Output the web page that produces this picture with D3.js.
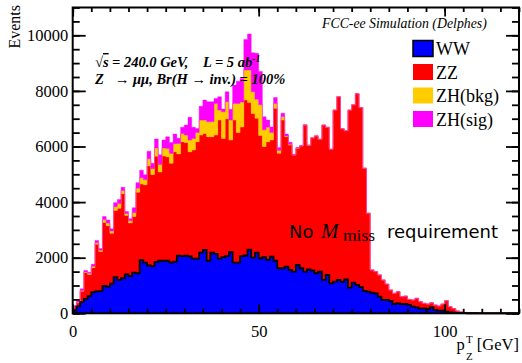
<!DOCTYPE html>
<html>
<head>
<meta charset="utf-8">
<script src="https://cdn.jsdelivr.net/npm/d3@7/dist/d3.min.js"></script>
<style>
  body { margin: 0; background: #fff; }
  svg { display: block; }
  .serif { font-family: "Liberation Serif", "Times New Roman", serif; }
</style>
</head>
<body>
<svg id="chart" width="522" height="363"></svg>
<script>
// Histogram binning: p_T of the Z, 1 GeV bins from 0 to 120 GeV
const binStart = 0;
const binWidth = 1;

// Events per bin for each process (stacked bottom to top)
const WW = [
  100, 250, 400, 520, 620, 760, 790, 800, 990, 960,
  1070, 1300, 1200, 1260, 1400, 1340, 1460, 1440, 1910, 1820,
  1720, 1700, 1850, 1890, 1890, 1890, 1820, 1860, 2070, 2060,
  2070, 2050, 1970, 1970, 2180, 2280, 1890, 2180, 2140, 1970,
  2020, 2060, 2200, 1820, 1820, 2060, 2080, 2290, 2000, 2180,
  1980, 2020, 1920, 2040, 1890, 1620, 1620, 1680, 1560, 1500,
  1740, 1620, 1500, 1580, 1540, 1440, 1500, 1200, 1380, 1080,
  1140, 1200, 1140, 1220, 920, 1100, 1020, 940, 810, 780,
  740, 720, 600, 480, 480, 450, 335, 360, 335, 335,
  300, 240, 215, 170, 180, 145, 215, 120, 96, 96,
  60, 36, 24, 12, 6, 4, 2, 1, 1, 0,
  0, 0, 0, 0, 0, 0, 0, 0, 0, 0
];
const ZZ = [
  100, 130, 390, 940, 780, 880, 1690, 1420, 2280, 2190,
  1810, 2400, 2580, 3040, 2120, 1910, 2020, 2910, 2740, 2800,
  3580, 3290, 3800, 3190, 3770, 3740, 3580, 3950, 3660, 4110,
  4070, 3760, 3900, 4200, 4230, 4190, 4460, 4170, 4270, 4980,
  4270, 4940, 4030, 5130, 4680, 4640, 5590, 5290, 5190, 4840,
  4420, 3980, 4250, 4190, 5490, 4140, 5330, 4670, 4490, 4190,
  4200, 4400, 5270, 4460, 4770, 4940, 4760, 5570, 5310, 4820,
  6170, 6590, 5500, 5350, 6390, 6400, 6880, 6460, 4410, 2820,
  820, 780, 780, 720, 570, 390, 385, 420, 265, 285,
  200, 240, 325, 250, 180, 190, 165, 180, 169, 239,
  395, 204, 146, 73, 44, 26, 18, 15, 12, 10,
  10, 9, 8, 7, 6, 6, 5, 5, 4, 4
];
const ZHbkg = [
  15, 20, 30, 30, 40, 50, 60, 50, 100, 100,
  80, 130, 170, 120, 70, 80, 140, 150, 230, 180,
  260, 210, 300, 270, 290, 300, 350, 290, 380, 300,
  270, 420, 420, 330, 540, 480, 540, 540, 1140, 360,
  960, 610, 720, 600, 1050, 900, 1080, 1170, 780, 680,
  1100, 600, 530, 270, 170, 100, 130, 30, 30, 10,
  10, 5, 5, 4, 3, 3, 2, 2, 2, 1,
  1, 1, 1, 1, 1, 1, 0, 0, 0, 0,
  0, 0, 0, 0, 0, 0, 0, 0, 0, 0,
  0, 0, 0, 0, 0, 0, 0, 0, 0, 0,
  0, 0, 0, 0, 0, 0, 0, 0, 0, 0,
  0, 0, 0, 0, 0, 0, 0, 0, 0, 0
];
const ZHsig = [
  55, 70, 60, 50, 40, 70, 80, 60, 110, 110,
  80, 150, 140, 110, 70, 70, 180, 200, 270, 180,
  270, 200, 320, 350, 280, 420, 390, 350, 190, 220,
  360, 820, 400, 150, 500, 720, 720, 720, 180, 480,
  100, 360, 390, 660, 800, 850, 1100, 1300, 1400, 1650,
  1200, 470, 250, 200, 210, 100, 120, 70, 70, 20,
  10, 10, 5, 4, 3, 3, 2, 2, 1, 1,
  1, 1, 1, 0, 0, 0, 0, 0, 0, 0,
  0, 0, 0, 0, 0, 0, 0, 0, 0, 0,
  0, 0, 0, 0, 0, 0, 0, 0, 0, 0,
  0, 0, 0, 0, 0, 0, 0, 0, 0, 0,
  0, 0, 0, 0, 0, 0, 0, 0, 0, 0
];

const processes = ["WW", "ZZ", "ZHbkg", "ZHsig"];
const legendLabels = ["WW", "ZZ", "ZH(bkg)", "ZH(sig)"];
const colors = ["#0000ff", "#ff0000", "#ffcc00", "#ff00ff"];

const xDomain = [0, 120];
const yDomain = [0, 11000];
const xLabelTicks = [0, 50, 100];
const yLabelTicks = [0, 2000, 4000, 6000, 8000, 10000];

const svg = d3.select("#chart");
const frameL = 72.7, frameR = 519, frameT = 7.5, frameB = 313.3;

const x = d3.scaleLinear().domain(xDomain).range([frameL, frameR]);
const y = d3.scaleLinear().domain(yDomain).range([frameB, frameT]);

// Build rows, one per bin low edge, plus a closing row at the upper edge for the step curve
const series = { WW, ZZ, ZHbkg, ZHsig };
const rows = WW.map((_, i) => {
  const r = { lo: binStart + i * binWidth };
  processes.forEach(p => r[p] = series[p][i]);
  return r;
});
const lastRow = Object.assign({}, rows[rows.length - 1], { lo: binStart + rows.length * binWidth });
rows.push(lastRow);

const stacked = d3.stack().keys(processes)(rows);

const area = d3.area()
  .x(d => x(d.data.lo))
  .y0(d => y(d[0]))
  .y1(d => y(d[1]))
  .curve(d3.curveStepAfter);

const plot = svg.append("g");
plot.selectAll("path.layer")
  .data(stacked)
  .join("path")
  .attr("class", "layer")
  .attr("d", area)
  .attr("fill", (d, i) => colors[i])
  .attr("stroke", (d, i) => colors[i])
  .attr("stroke-width", 0.4);

// WW drawn with a black outline along its top
const wwLine = d3.line()
  .x(d => x(d.data.lo))
  .y(d => y(d[1]))
  .curve(d3.curveStepAfter);
plot.append("path")
  .attr("d", wwLine(stacked[0]))
  .attr("fill", "none")
  .attr("stroke", "#000")
  .attr("stroke-width", 1.8);

// Axes with inward ticks on all four sides
const minorX = d3.range(0, 121, 5);
const minorY = d3.range(0, 11001, 500);
function styleAxis(g) {
  g.select(".domain").remove();
  g.selectAll(".tick line").attr("stroke", "#000").attr("stroke-width", 1.8);
}
svg.append("g").attr("transform", `translate(0,${frameB})`)
  .call(d3.axisBottom(x).tickValues(minorX).tickSize(-4.5).tickFormat(""))
  .call(styleAxis);
svg.append("g").attr("transform", `translate(0,${frameB})`)
  .call(d3.axisBottom(x).tickValues(xLabelTicks).tickSize(-9).tickPadding(11.5).tickFormat(d3.format("d")))
  .call(styleAxis)
  .call(g => g.selectAll("text").attr("class", "serif").attr("font-size", 16.5).attr("fill", "#000"));
svg.append("g").attr("transform", `translate(0,${frameT})`)
  .call(d3.axisTop(x).tickValues(minorX).tickSize(-4.5).tickFormat(""))
  .call(styleAxis);
svg.append("g").attr("transform", `translate(0,${frameT})`)
  .call(d3.axisTop(x).tickValues(xLabelTicks).tickSize(-9).tickFormat(""))
  .call(styleAxis);

svg.append("g").attr("transform", `translate(${frameL},0)`)
  .call(d3.axisLeft(y).tickValues(minorY).tickSize(-7).tickFormat(""))
  .call(styleAxis);
svg.append("g").attr("transform", `translate(${frameL},0)`)
  .call(d3.axisLeft(y).tickValues(yLabelTicks).tickSize(-13).tickPadding(4.5).tickFormat(d3.format("d")))
  .call(styleAxis)
  .call(g => g.selectAll("text").attr("class", "serif").attr("font-size", 16.5).attr("fill", "#000"));
svg.append("g").attr("transform", `translate(${frameR},0)`)
  .call(d3.axisRight(y).tickValues(minorY).tickSize(-7).tickFormat(""))
  .call(styleAxis);
svg.append("g").attr("transform", `translate(${frameR},0)`)
  .call(d3.axisRight(y).tickValues(yLabelTicks).tickSize(-13).tickFormat(""))
  .call(styleAxis);

// Frame
svg.append("rect")
  .attr("x", frameL).attr("y", frameT)
  .attr("width", frameR - frameL).attr("height", frameB - frameT)
  .attr("fill", "none").attr("stroke", "#000").attr("stroke-width", 2);

// Axis titles
svg.append("text").attr("class", "serif")
  .attr("transform", "translate(20,5) rotate(-90)")
  .attr("text-anchor", "end")
  .attr("font-size", 16)
  .text("Events");

const xt = svg.append("g").attr("class", "serif").attr("font-size", 16.5);
xt.append("text").attr("x", 456.5).attr("y", 350).text("p");
xt.append("text").attr("x", 466).attr("y", 343).attr("font-size", 11).text("T");
xt.append("text").attr("x", 466).attr("y", 360).attr("font-size", 11).text("Z");
xt.append("text").attr("x", 519).attr("y", 350).attr("text-anchor", "end").text("[GeV]");

// Header and annotations
svg.append("text").attr("class", "serif")
  .attr("x", 322).attr("y", 28)
  .attr("font-size", 13.8).attr("font-style", "italic")
  .text("FCC-ee Simulation (Delphes)");

const ann = svg.append("g").attr("class", "serif")
  .attr("font-size", 14.5).attr("font-style", "italic").attr("font-weight", "bold");
const l1 = ann.append("text").attr("x", 95).attr("y", 67);
l1.append("tspan").text("√");
l1.append("tspan").attr("style", "text-decoration: overline").text("s");
ann.append("text").attr("x", 112).attr("y", 67).text("= 240.0 GeV,");
const l1b = ann.append("text").attr("x", 203).attr("y", 67);
l1b.append("tspan").text("L = 5 ab");
l1b.append("tspan").attr("dy", -5).attr("font-size", 9.5).text("-1");
ann.append("text").attr("x", 95).attr("y", 84).text("Z");
ann.append("text").attr("x", 115).attr("y", 84).text("→");
ann.append("text").attr("x", 133).attr("y", 84).text("μμ, Br(H → inv.) = 100%");

// Legend
const legend = svg.append("g");
legendLabels.forEach((lab, i) => {
  const cy = 48.5 + i * 23.5;
  legend.append("rect")
    .attr("x", 413).attr("y", cy - 8)
    .attr("width", 20).attr("height", 16)
    .attr("fill", colors[i])
    .attr("stroke", i === 0 ? "#000" : colors[i])
    .attr("stroke-width", i === 0 ? 1.5 : 0);
  legend.append("text").attr("class", "serif")
    .attr("x", 436).attr("y", cy + 6.5)
    .attr("font-size", 18)
    .text(lab);
});

// Selection note
const note = svg.append("g");
note.append("text").attr("x", 289).attr("y", 238)
  .attr("font-family", "DejaVu Sans").attr("font-size", 18).text("No");
note.append("text").attr("x", 321).attr("y", 238)
  .attr("class", "serif").attr("font-style", "italic").attr("font-size", 21).text("M");
note.append("text").attr("x", 343).attr("y", 241)
  .attr("class", "serif").attr("font-size", 17.5).text("miss");
note.append("text").attr("x", 387).attr("y", 238)
  .attr("font-family", "DejaVu Sans").attr("font-size", 18).text("requirement");
</script>
</body>
</html>
